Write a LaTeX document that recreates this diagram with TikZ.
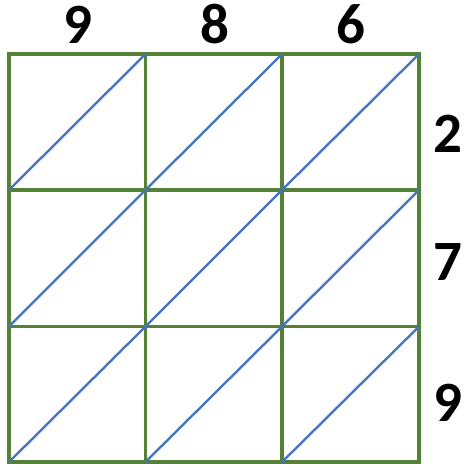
\documentclass[tikz,border=0pt]{standalone}
\usepackage{fontspec}
\setmainfont{Carlito}
\definecolor{gridgreen}{HTML}{548235}
\definecolor{diagblue}{HTML}{4472C4}
\begin{document}
\begin{tikzpicture}[x=1pt,y=-1pt,
  gridline/.style={draw=gridgreen,line width=3.8pt,line cap=rect},
  diagline/.style={draw=diagblue,line width=2.3pt},
  digit/.style={inner sep=0pt,font=\fontsize{57}{60}\selectfont\bfseries}]
\useasboundingbox[fill=white] (0,0) rectangle (474,469);
\def\xs{{9,145.5,282,419}}
\def\ys{{54,190,326.5,462}}
\foreach \i in {0,1,2}{
  \foreach \j in {0,1,2}{
    \pgfmathsetmacro\xa{\xs[\i]}
    \pgfmathsetmacro\xb{\xs[\i+1]}
    \pgfmathsetmacro\ya{\ys[\j]}
    \pgfmathsetmacro\yb{\ys[\j+1]}
    \coordinate (bl\i\j) at (\xa,\yb);
    \coordinate (tr\i\j) at (\xb,\ya);
  }
}
% grid
\foreach \k in {0,1,2,3}{
  \pgfmathsetmacro\xk{\xs[\k]}
  \pgfmathsetmacro\yk{\ys[\k]}
  \draw[gridline] (\xk,54) -- (\xk,462);
  \draw[gridline] (9,\yk) -- (419,\yk);
}
% diagonals
\foreach \i in {0,1,2}{
  \foreach \j in {0,1,2}{
    \draw[diagline] (bl\i\j) -- (tr\i\j);
  }
}
\node[digit] (t1) at (78,24.5) {9};
\node[digit] (t2) at (214.5,24.5) {8};
\node[digit] (t3) at (351,24.5) {6};
\node[digit] (r1) at (448,133.5) {2};
\node[digit] (r2) at (448,262) {7};
\node[digit] (r3) at (448,403) {9};
\end{tikzpicture}
\end{document}
